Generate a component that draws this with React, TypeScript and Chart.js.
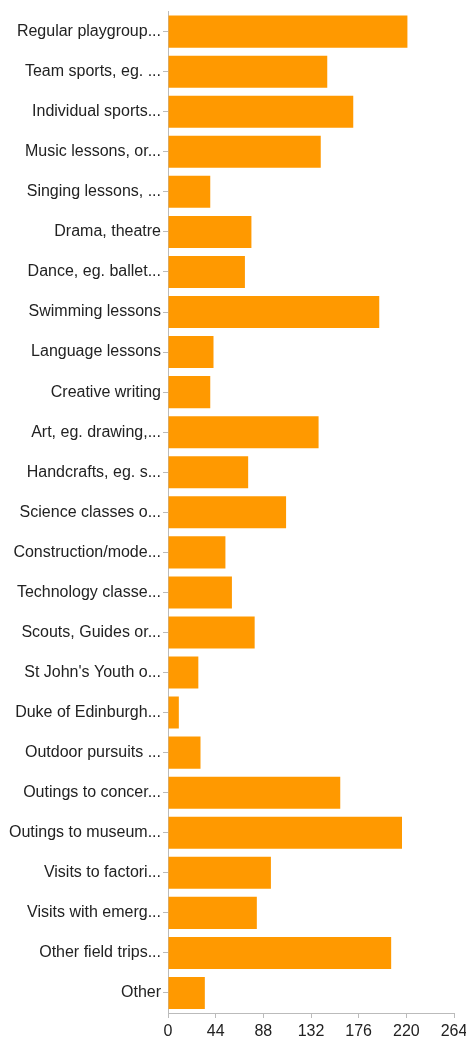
import React, { useEffect, useRef } from "react";
import { Chart, registerables } from "chart.js";

Chart.register(...registerables);

const categories: string[] = [
  "Regular playgroup...",
  "Team sports, eg. ...",
  "Individual sports...",
  "Music lessons, or...",
  "Singing lessons, ...",
  "Drama, theatre",
  "Dance, eg. ballet...",
  "Swimming lessons",
  "Language lessons",
  "Creative writing",
  "Art, eg. drawing,...",
  "Handcrafts, eg. s...",
  "Science classes o...",
  "Construction/mode...",
  "Technology classe...",
  "Scouts, Guides or...",
  "St John's Youth o...",
  "Duke of Edinburgh...",
  "Outdoor pursuits ...",
  "Outings to concer...",
  "Outings to museum...",
  "Visits to factori...",
  "Visits with emerg...",
  "Other field trips...",
  "Other",
];

const values: number[] = [
  221, 147, 171, 141, 39, 77, 71, 195, 42, 39, 139, 74, 109, 53, 59, 80, 28, 10,
  30, 159, 216, 95, 82, 206, 34,
];

const xTicks: number[] = [0, 44, 88, 132, 176, 220, 264];

export default function App() {
  const ref = useRef<HTMLCanvasElement | null>(null);

  useEffect(() => {
    if (!ref.current) return;
    const chart = new Chart(ref.current, {
      type: "bar",
      data: {
        labels: categories,
        datasets: [
          {
            data: values,
            backgroundColor: "#FF9900",
            borderWidth: 0,
            barPercentage: 0.8,
            categoryPercentage: 1.0,
          },
        ],
      },
      options: {
        indexAxis: "y",
        animation: false,
        responsive: false,
        devicePixelRatio: 1,
        layout: { padding: { top: 11, right: 12, bottom: 0, left: 0 } },
        plugins: {
          legend: { display: false },
          tooltip: { enabled: false },
        },
        scales: {
          x: {
            min: 0,
            max: 264,
            afterBuildTicks: (scale: any) => {
              scale.ticks = xTicks.map((v) => ({ value: v }));
            },
            afterFit: (scale: any) => {
              scale.height = 29;
              scale.paddingRight = 0;
            },
            grid: {
              display: true,
              drawOnChartArea: false,
              drawTicks: true,
              tickLength: 5,
              color: "#bbbbbb",
            },
            border: { display: true, color: "#bbbbbb", width: 1 },
            ticks: {
              color: "#222222",
              font: { family: "Liberation Sans, Arial, sans-serif", size: 16 },
              padding: 4,
              maxRotation: 0,
              autoSkip: false,
            },
          },
          y: {
            afterFit: (scale: any) => {
              scale.width = 168;
            },
            grid: {
              display: true,
              drawOnChartArea: false,
              drawTicks: true,
              tickLength: 5,
              color: "#bbbbbb",
              offset: false,
            },
            border: { display: true, color: "#bbbbbb", width: 1 },
            ticks: {
              color: "#222222",
              font: { family: "Liberation Sans, Arial, sans-serif", size: 16 },
              padding: 2,
              autoSkip: false,
            },
          },
        },
      },
    });
    return () => chart.destroy();
  }, []);

  return (
    <div style={{ position: "fixed", left: 0, top: 0, width: 466, height: 1042, background: "#fff" }}>
      <canvas ref={ref} width={466} height={1042} style={{ display: "block", width: 466, height: 1042 }} />
    </div>
  );
}
